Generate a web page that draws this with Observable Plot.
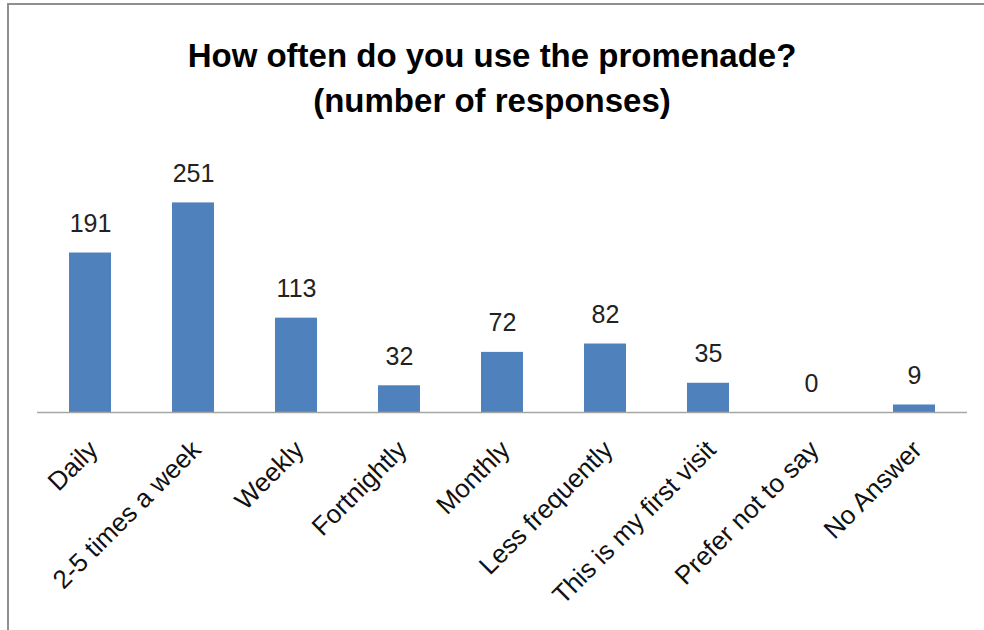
<!DOCTYPE html>
<html>
<head>
<meta charset="utf-8">
<script src="https://cdn.jsdelivr.net/npm/d3@7"></script>
<script src="https://cdn.jsdelivr.net/npm/@observablehq/plot@0.6"></script>
<style>
  html, body { margin: 0; padding: 0; background: #fff; }
  #wrap { position: relative; width: 984px; height: 630px; overflow: hidden; background: #fff; }
  #frame { position: absolute; left: 7px; top: 3px; right: -5px; bottom: -5px;
           border-left: 2px solid #8f8f8f; border-top: 2px solid #8f8f8f; pointer-events: none; }
  #title { height: 140px; box-sizing: border-box; padding-top: 33px; text-align: center;
           font-family: "Liberation Sans", Arial, sans-serif; font-weight: bold; font-size: 33px;
           line-height: 45px; color: #000; }
  #chart svg { display: block; }
</style>
</head>
<body>
<div id="wrap">
  <div id="title">How often do you use the promenade?<br>(number of responses)</div>
  <div id="chart"></div>
  <div id="frame"></div>
</div>
<script>
const categories = ["Daily", "2-5 times a week", "Weekly", "Fortnightly", "Monthly",
  "Less frequently", "This is my first visit", "Prefer not to say", "No Answer"];
const responses = [191, 251, 113, 32, 72, 82, 35, 0, 9];

const data = categories.map((c, i) => ({category: c, value: responses[i]}));
const font = "'Liberation Sans', Arial, sans-serif";

const chart = Plot.plot({
  width: 984,
  height: 490,
  marginLeft: 37,
  marginRight: 17,
  marginTop: 21.5,
  marginBottom: 218,
  style: {fontFamily: font, background: "transparent", overflow: "visible"},
  x: {type: "band", domain: categories, paddingInner: 0.59, paddingOuter: 0.295, axis: null},
  y: {domain: [0, 300], axis: null},
  marks: [
    Plot.barY(data, {x: "category", y: "value", fill: "#4f81bd"}),
    Plot.ruleY([0], {stroke: "#a6a6a6", strokeWidth: 1.5}),
    Plot.text(data, {x: "category", y: "value", text: d => String(d.value),
      dy: -29, fontSize: 25, fill: "#222"}),
    Plot.text(data, {x: "category", y: () => 0, text: "category", rotate: -45,
      textAnchor: "end", dx: 3, dy: 33, fontSize: 26, fill: "#111"})
  ]
});
document.getElementById("chart").appendChild(chart);
</script>
</body>
</html>
